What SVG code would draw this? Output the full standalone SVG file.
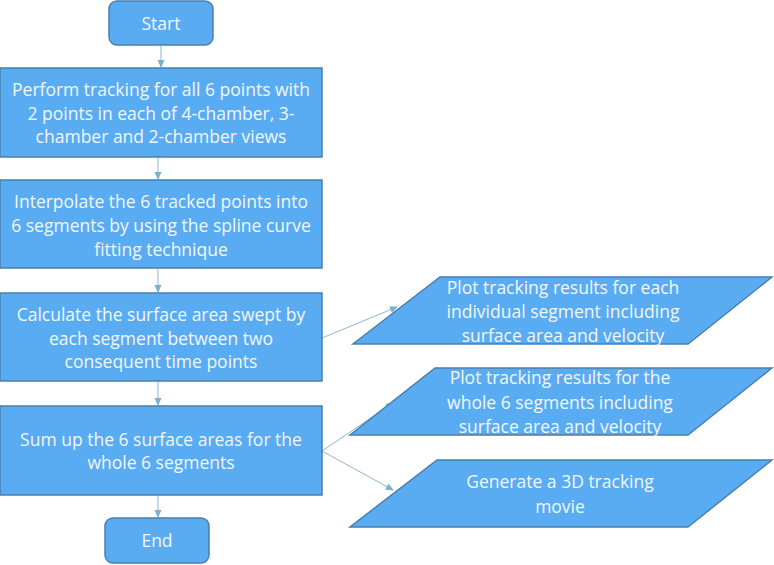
<svg xmlns="http://www.w3.org/2000/svg" width="774" height="565" viewBox="0 0 774 565">
<style>
.n{fill:#5aacf2;stroke:#4a7fb0;stroke-width:1.5}
.t{font-family:"Open Sans","Liberation Sans",sans-serif;font-size:17.5px;fill:#f2f6fa;text-anchor:middle}
.c{stroke:#8ab8d0;stroke-width:1;fill:none}
</style>
<defs>
<marker id="a" markerWidth="8" markerHeight="8" refX="7" refY="4" orient="auto" markerUnits="userSpaceOnUse">
<path d="M0,0.5 L8,4 L0,7.5 Z" fill="#7ab0d0"/>
</marker>
</defs>
<g id="connectors">
<line class="c" x1="161" y1="45" x2="161" y2="67" marker-end="url(#a)"/>
<line class="c" x1="158" y1="157" x2="158" y2="179" marker-end="url(#a)"/>
<line class="c" x1="158" y1="268" x2="158" y2="292" marker-end="url(#a)"/>
<line class="c" x1="158" y1="381" x2="158" y2="405" marker-end="url(#a)"/>
<line class="c" x1="158" y1="495" x2="158" y2="517" marker-end="url(#a)"/>
<line class="c" x1="322" y1="338" x2="397" y2="307" marker-end="url(#a)"/>
<line class="c" x1="322" y1="451" x2="393" y2="403" marker-end="url(#a)"/>
<line class="c" x1="322" y1="451" x2="393" y2="490" marker-end="url(#a)"/>
</g>
<g id="start">
<rect class="n" x="109" y="1" width="104" height="44" rx="8"/>
<text class="t" x="161" y="30">Start</text>
</g>
<g id="step1">
<rect class="n" x="0" y="68" width="322" height="89"/>
<text class="t" x="161" y="96">Perform tracking for all 6 points with</text>
<text class="t" x="161" y="120">2 points in each of 4-chamber, 3-</text>
<text class="t" x="161" y="143">chamber and 2-chamber views</text>
</g>
<g id="step2">
<rect class="n" x="0" y="180" width="322" height="88"/>
<text class="t" x="161" y="208">Interpolate the 6 tracked points into</text>
<text class="t" x="161" y="232">6 segments by using the spline curve</text>
<text class="t" x="161" y="256">fitting technique</text>
</g>
<g id="step3">
<rect class="n" x="0" y="293" width="322" height="88"/>
<text class="t" x="161" y="321">Calculate the surface area swept by</text>
<text class="t" x="161" y="345">each segment between two</text>
<text class="t" x="161" y="368">consequent time points</text>
</g>
<g id="step4">
<rect class="n" x="0" y="406" width="322" height="89"/>
<text class="t" x="161" y="446">Sum up the 6 surface areas for the</text>
<text class="t" x="161" y="469">whole 6 segments</text>
</g>
<g id="end">
<rect class="n" x="105" y="518" width="104" height="45" rx="8"/>
<text class="t" x="157" y="547">End</text>
</g>
<g id="out1">
<polygon class="n" points="440,277 772,277 688,344 353,344"/>
<text class="t" x="563" y="294">Plot tracking results for each</text>
<text class="t" x="563" y="318">individual segment including</text>
<text class="t" x="563" y="342">surface area and velocity</text>
</g>
<g id="out2">
<polygon class="n" points="435,368 772,368 688,435 350,435"/>
<text class="t" x="560" y="384">Plot tracking results for the</text>
<text class="t" x="560" y="409">whole 6 segments including</text>
<text class="t" x="560" y="433">surface area and velocity</text>
</g>
<g id="out3">
<polygon class="n" points="437,460 772,460 688,527 350,527"/>
<text class="t" x="560" y="488">Generate a 3D tracking</text>
<text class="t" x="560" y="513">movie</text>
</g>
</svg>
